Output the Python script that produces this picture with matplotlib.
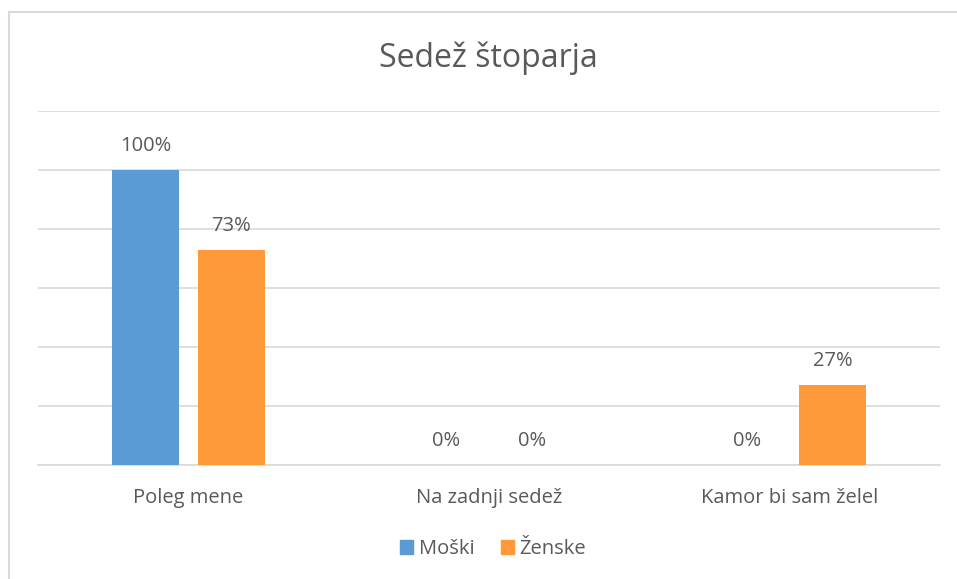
import matplotlib.pyplot as plt
import matplotlib.patches as patches
import numpy as np

categories = ["Poleg mene", "Na zadnji sedež", "Kamor bi sam želel"]
moski = [1.00, 0.00, 0.00]
zenske = [0.73, 0.00, 0.27]
series_names = ["Moški", "Ženske"]
colors = ["#5B9BD5", "#FF9A3A"]
text_color = "#595959"

plt.rcParams.update({"font.family": ["Open Sans", "DejaVu Sans"]})

fig = plt.figure(figsize=(9.57, 5.79), dpi=100)
W, H = 957, 579
ax = fig.add_axes([38 / W, 1 - 465 / H, (940 - 38) / W, (465 - 111) / H])

# outer chart frame (cut off at right and bottom)
frame = patches.Rectangle((9 / W, -0.05), 1.1, 1.05 - 12 / H, transform=fig.transFigure,
                          fill=False, edgecolor="#D9D9D9", linewidth=1.5, clip_on=False)
fig.add_artist(frame)

x = np.arange(len(categories))
width = 0.225
offset = 0.143
for vals, off, col, name in [(moski, -offset, colors[0], series_names[0]),
                             (zenske, offset, colors[1], series_names[1])]:
    bars = ax.bar(x + off, vals, width, color=col, label=name, zorder=3)
    for b, v in zip(bars, vals):
        ax.annotate("{:.0f}%".format(v * 100), (b.get_x() + b.get_width() / 2, v),
                    xytext=(0, 10), textcoords="offset points", ha="center", va="bottom",
                    fontsize=14.5, color=text_color)

ax.set_xlim(-0.5, 2.5)
ax.set_ylim(0, 1.2)
ax.set_yticks(np.arange(0, 1.21, 0.2))
ax.yaxis.grid(True, color="#D9D9D9", linewidth=1.2, zorder=0)
ax.tick_params(axis="y", left=False, labelleft=False)
ax.set_xticks(x)
ax.set_xticklabels(categories, fontsize=14.5, color=text_color)
ax.tick_params(axis="x", bottom=False, pad=13)
for s in ["top", "right", "left"]:
    ax.spines[s].set_visible(False)
ax.spines["bottom"].set_color("#D9D9D9")
ax.spines["bottom"].set_linewidth(1.2)

fig.text(488 / W, 1 - 58 / H, "Sedež štoparja", ha="center", va="center",
         fontsize=23, color=text_color)

handles = [patches.Patch(color=c) for c in colors]
fig.legend(handles, series_names, loc="center", bbox_to_anchor=(493 / W, 1 - 549 / H),
           ncol=2, frameon=False, fontsize=14.5, labelcolor=text_color,
           handlelength=0.65, handleheight=0.65, handletextpad=0.3, columnspacing=1.3)

fig.savefig("out.png", dpi=100)
